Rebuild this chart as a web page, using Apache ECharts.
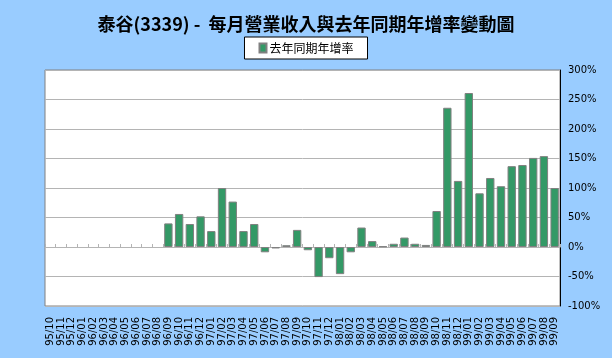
<!DOCTYPE html>
<html><head><meta charset="utf-8">
<script src="https://cdn.jsdelivr.net/npm/echarts@6/dist/echarts.min.js"></script>
<style>html,body{margin:0;padding:0;background:#99CCFF;}#c{width:612px;height:358px;}</style>
</head><body><div id="c"></div>
<script>
const titleText = '泰谷(3339) -  每月營業收入與去年同期年增率變動圖';
const seriesName = '去年同期年增率';
const months = ['95/10','95/11','95/12',
 '96/01','96/02','96/03','96/04','96/05','96/06','96/07','96/08','96/09','96/10','96/11','96/12',
 '97/01','97/02','97/03','97/04','97/05','97/06','97/07','97/08','97/09','97/10','97/11','97/12',
 '98/01','98/02','98/03','98/04','98/05','98/06','98/07','98/08','98/09','98/10','98/11','98/12',
 '99/01','99/02','99/03','99/04','99/05','99/06','99/07','99/08','99/09'];
const growth = [null,null,null,
 null,null,null,null,null,null,null,null,40,56,39,52,
 27,100,77,27,39,-9,-2.5,3,29,-5.5,-51,-19,
 -46,-9,33,10,1,5.5,16,5.5,3.5,61,236,112,
 261,91,117,103,137,139,151,154,100];
const yTicks = {min:-100, max:300, step:50};

const chart = echarts.init(document.getElementById('c'), null, {renderer:'canvas'});
chart.setOption({
  backgroundColor:'#99CCFF',
  animation:false,
  title:{text:titleText, left:'center', top:10,
    textStyle:{fontFamily:'"Noto Sans CJK TC", sans-serif', fontSize:18, fontWeight:'bold', color:'#000'}},
  legend:{data:[seriesName], left:'center', top:37, backgroundColor:'#fff', borderColor:'#000', borderWidth:1,
    padding:[5,14,5,14], itemWidth:7, itemHeight:9, itemGap:4, icon:'rect',
    textStyle:{fontFamily:'"Noto Sans CJK TC", sans-serif', fontSize:12, color:'#000', padding:[0,0,0,-2]}},
  grid:{left:45, right:52, top:70, bottom:52, show:true, backgroundColor:'#fff', borderColor:'#808080', borderWidth:1},
  xAxis:[{type:'category', data:months, position:'bottom',
      axisLine:{onZero:false, show:false}, axisTick:{show:false},
      axisLabel:{rotate:90, interval:0, fontFamily:'"DejaVu Sans", sans-serif', fontSize:10, color:'#000', margin:11}},
    {type:'category', data:months, position:'bottom',
      axisLine:{onZero:true, show:true, lineStyle:{color:'#b4b4b4'}},
      axisTick:{show:true, inside:true, length:3, interval:0, lineStyle:{color:'#b4b4b4'}},
      axisLabel:{show:false, interval:0}}],
  yAxis:{type:'value', position:'right', min:yTicks.min, max:yTicks.max, interval:yTicks.step,
    axisLine:{show:true, lineStyle:{color:'#000'}}, axisTick:{show:false},
    splitLine:{lineStyle:{color:'#b4b4b4'}},
    axisLabel:{formatter:'{value}%', fontFamily:'"DejaVu Sans", sans-serif', fontSize:10, color:'#000', margin:8}},
  series:[{name:seriesName, type:'bar', xAxisIndex:0, data:growth, barCategoryGap:'22%',
    itemStyle:{color:'#339966', borderColor:'#808080', borderWidth:1}}]
});
</script></body></html>
